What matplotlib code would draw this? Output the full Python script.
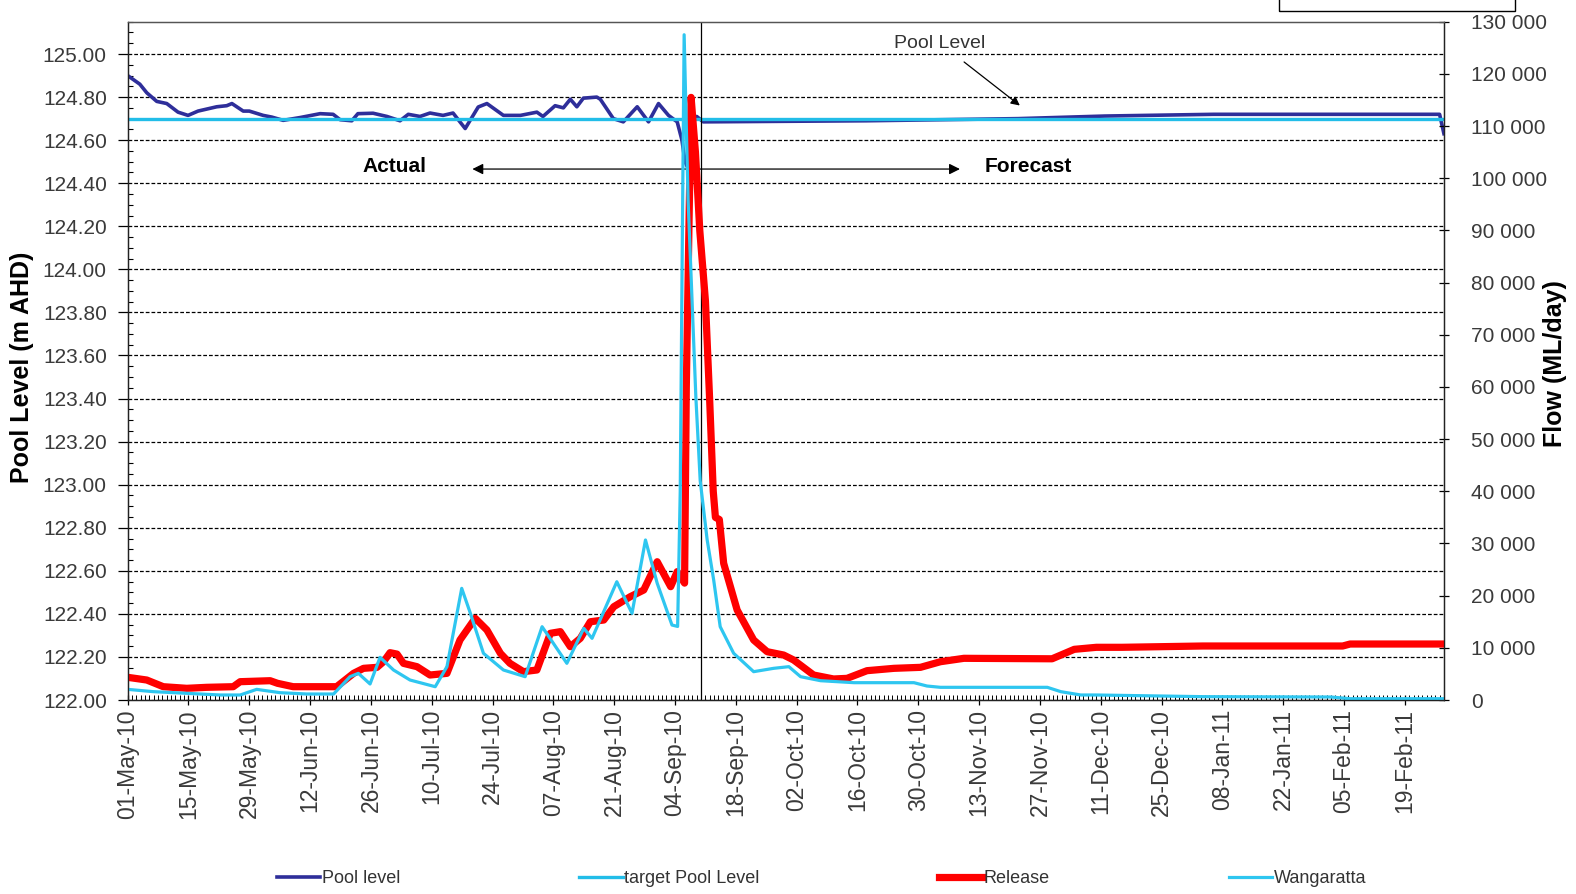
import numpy as np
import pandas as pd
import matplotlib
matplotlib.use("Agg")
import matplotlib.pyplot as plt
import matplotlib.dates as mdates
from matplotlib.ticker import MultipleLocator, FuncFormatter
from matplotlib.lines import Line2D
from matplotlib.patches import Rectangle

plt.rcParams["font.family"] = ["Liberation Sans", "DejaVu Sans"]

start = pd.Timestamp("2010-05-01")
end = pd.Timestamp("2011-02-28")
forecast_start = pd.Timestamp("2010-09-10")

# pool level (m AHD), days counted from 1 May 2010
pool_day = [0, 2.8, 4.4, 6.7, 9, 11.6, 13.9, 16.2, 20.5, 22.8, 24, 26.6, 28, 31.2, 33.2,
            35.8, 39.7, 44.3, 47.3, 48.9, 51.6, 53, 56.5, 59.7, 62.7, 64.6, 67.3, 69.6,
            72.6, 74.9, 77.7, 80.7, 82.7, 86.5, 90.4, 94.2, 95.6, 98.4, 100.3, 101.9,
            103.4, 104.9, 108, 108.8, 111.8, 114.1, 117.3, 119.9, 122.2, 124.5, 126.5,
            127.6, 128.3, 129.2, 130.2, 131, 132.5, 170, 205, 225, 250, 302, 303]
pool_level = [124.90, 124.86, 124.82, 124.78, 124.77, 124.73, 124.715, 124.735, 124.755,
              124.76, 124.77, 124.735, 124.735, 124.715, 124.707, 124.692, 124.705,
              124.723, 124.72, 124.695, 124.69, 124.723, 124.725, 124.71, 124.69, 124.72,
              124.71, 124.726, 124.715, 124.726, 124.654, 124.754, 124.77, 124.715,
              124.715, 124.73, 124.71, 124.76, 124.75, 124.79, 124.755, 124.795, 124.80,
              124.79, 124.70, 124.685, 124.755, 124.685, 124.77, 124.715, 124.685,
              124.60, 124.50, 124.46, 124.70, 124.71, 124.685, 124.69, 124.70, 124.712,
              124.72, 124.72, 124.63]

target_day = [0, 303]
target_level = [124.70, 124.70]

# Hume release (ML/day)
release_day = [0, 4.4, 8.2, 13.6, 18.2, 24.3, 25.9, 32.8, 34.5, 38.1, 48.1, 52, 54.3, 57.4,
               58.9, 60.4, 62, 63.5, 66.6, 69.6, 73.5, 76.5, 80, 82.7, 85.8, 88, 91.1,
               94.2, 97.3, 99.6, 101.9, 104.2, 106.5, 109.6, 111.9, 115.7, 118.8, 121.9,
               125, 126.5, 128.2, 128.6, 129.7, 130.7, 131.7, 133, 134, 134.8, 135.3,
               136.2, 137.2, 140.3, 144.1, 147.2, 151, 153.3, 157.9, 162.5, 165.6, 170.2,
               176.4, 182.5, 187.1, 192.5, 212.8, 217.9, 223, 228.9, 247.5, 279.7, 281.4,
               303]
release_flow = [4350, 3830, 2550, 2240, 2430, 2550, 3510, 3700, 3200, 2550, 2550, 5110,
                6070, 6260, 7340, 9070, 8800, 7020, 6390, 4790, 5110, 11500, 15660, 13420,
                8950, 7030, 5430, 5750, 12780, 13100, 10220, 11820, 15000, 15330, 17880,
                19800, 21080, 26500, 21720, 24600, 22400, 60000, 115500, 105000, 90000,
                76500, 57000, 40000, 35000, 34600, 26200, 17250, 11500, 9260, 8620, 7670,
                4790, 4030, 4150, 5620, 6070, 6260, 7340, 7990, 7900, 9710, 10100, 10100,
                10350, 10350, 10730, 10730]

# Ovens River at Wangaratta (ML/day)
wang_day = [0, 5.9, 13.6, 21.3, 25.9, 29.7, 35.1, 41.2, 47.4, 51.2, 53.1, 55.8, 58.1, 61.2,
            65, 70.8, 73.5, 76.9, 78.9, 81.9, 86.5, 91.5, 95.4, 98, 101.1, 105, 106.9,
            112.6, 116.1, 119.2, 121.9, 125.3, 126.6, 127.2, 127.7, 128.1, 129, 129.9,
            130.8, 131.8, 133.4, 134.9, 136.4, 139.5, 144.1, 148.7, 152.2, 154.9, 159.5,
            167.2, 181, 184, 187.1, 211.7, 214.8, 219.4, 223, 247.5, 277, 281.4, 303]
wang_flow = [2040, 1600, 1280, 960, 960, 2040, 1400, 1150, 1150, 4470, 5110, 3070, 8180,
             5750, 3830, 2550, 6390, 21400, 16600, 8950, 5750, 4470, 14050, 10860, 7030,
             13740, 11820, 22670, 16610, 30670, 22370, 14370, 14100, 40000, 90000, 127500,
             96000, 77000, 58000, 42000, 30700, 23000, 14050, 8950, 5430, 6070, 6390, 4470,
             3700, 3320, 3320, 2680, 2430, 2430, 1600, 960, 960, 640, 575, 250, 250]


def to_dates(days):
    return start + pd.to_timedelta(np.array(days, dtype=float), unit="D")


fig = plt.figure(figsize=(15.76, 8.94), dpi=100)
ax = fig.add_axes([0.0810, 0.2170, 0.8352, 0.7587])
ax2 = ax.twinx()

c_pool, c_target, c_rel, c_wang = "#2e2e9a", "#22bde8", "#ff0000", "#2ec6f0"

ax.plot(to_dates(pool_day), pool_level, color=c_pool, lw=2.6, solid_joinstyle="round")
ax.plot(to_dates(target_day), target_level, color=c_target, lw=2.4)
ax2.plot(to_dates(release_day), release_flow, color=c_rel, lw=5.2, solid_joinstyle="round")
ax2.plot(to_dates(wang_day), wang_flow, color=c_wang, lw=2.3, solid_joinstyle="round")

ax.axvline(forecast_start, color="black", lw=0.9)

ax.set_xlim(start, end)
ax.set_ylim(122, 125.15)
ax2.set_ylim(0, 130000)

ax.yaxis.set_major_locator(MultipleLocator(0.2))
ax.yaxis.set_minor_locator(MultipleLocator(0.05))
ax.yaxis.set_major_formatter(FuncFormatter(lambda v, p: f"{v:.2f}"))
ax2.yaxis.set_major_locator(MultipleLocator(10000))
ax2.yaxis.set_major_formatter(FuncFormatter(lambda v, p: f"{int(round(v)):,}".replace(",", " ")))

ax.set_xticks(pd.date_range(start, end, freq="14D"))
ax.xaxis.set_minor_locator(mdates.DayLocator())
ax.xaxis.set_major_formatter(mdates.DateFormatter("%d-%b-%y"))

lab_col = "#3a3a3a"
ax.tick_params(axis="x", which="major", direction="inout", length=7, width=0.9,
               labelsize=16.5, labelcolor=lab_col, labelrotation=90, pad=3)
ax.tick_params(axis="x", which="minor", direction="in", length=3.5, width=0.7)
ax.tick_params(axis="y", which="major", direction="out", length=7, width=0.9,
               labelsize=15, labelcolor=lab_col, pad=8)
ax.tick_params(axis="y", which="minor", direction="in", length=3.6, width=0.8)
ax2.tick_params(axis="y", which="major", direction="inout", length=7.5, width=0.9,
                labelsize=15, labelcolor=lab_col, pad=16)

ax.grid(axis="y", which="major", color="black", lw=0.9, linestyle=(0, (3, 1.6)))
ax.set_axisbelow(True)

for a in (ax, ax2):
    for s in a.spines.values():
        s.set_color("#222222")
        s.set_linewidth(0.9)
    a.spines["top"].set_color("#555555")

fig.text(22 / 1576, 1 - 367 / 894, "Pool Level (m AHD)", rotation=90, ha="center",
         va="center", fontsize=18, fontweight="bold")
fig.text(1555 / 1576, 1 - 364 / 894, "Flow (ML/day)", rotation=90, ha="center",
         va="center", fontsize=18, fontweight="bold")

ax.text(0.203, 0.787, "Actual", transform=ax.transAxes, ha="center", va="center",
        fontsize=15, fontweight="bold")
ax.text(0.684, 0.787, "Forecast", transform=ax.transAxes, ha="center", va="center",
        fontsize=15, fontweight="bold")
ax.annotate("", xy=(0.2619, 0.7828), xytext=(0.6323, 0.7828), xycoords="axes fraction",
            arrowprops=dict(arrowstyle="<|-|>", color="black", lw=0.9, mutation_scale=16,
                            shrinkA=0, shrinkB=0))
ax.annotate("Pool Level", xy=(0.6778, 0.8765), xytext=(0.617, 0.9686),
            xycoords="axes fraction", textcoords="axes fraction", ha="center", va="center",
            fontsize=14, color="#333333",
            arrowprops=dict(arrowstyle="-|>", color="black", lw=0.9, mutation_scale=13,
                            shrinkA=9, shrinkB=0))

# legend along the bottom
handles = [Line2D([], [], color=c_pool, lw=2.6), Line2D([], [], color=c_target, lw=2.4),
           Line2D([], [], color=c_rel, lw=5.2), Line2D([], [], color=c_wang, lw=2.3)]
labels = ["Pool level", "target Pool Level", "Release", "Wangaratta"]
fig.legend(handles, labels, loc="center", bbox_to_anchor=(0.5213, 0.0168), ncol=4,
           frameon=False, fontsize=13, handlelength=2.4, handletextpad=0.1,
           columnspacing=9.9, labelcolor="#333333")

fig.add_artist(Rectangle((1279 / 1576, 1 - 11 / 894), (1515 - 1279) / 1576, 0.05,
                         transform=fig.transFigure, fill=False, edgecolor="black", lw=1))

fig.savefig("out.png", dpi=100)
